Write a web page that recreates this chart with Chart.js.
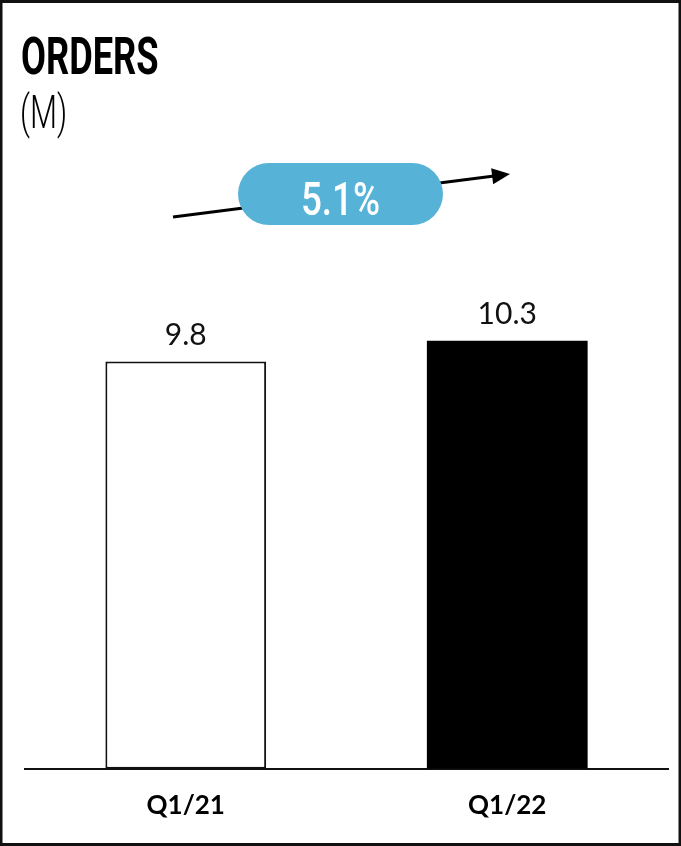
<!DOCTYPE html>
<html>
<head>
<meta charset="utf-8">
<title>Orders</title>
<script src="https://cdn.jsdelivr.net/npm/chart.js@4"></script>
<style>
    html, body { margin: 0; padding: 0; background: #fff; }
    #wrap { width: 681px; height: 846px; position: relative; }
</style>
</head>
<body>
<div id="wrap"><canvas id="orders-chart" width="681" height="846"></canvas></div>
<script>
// Quarterly orders, millions
const quarters = ['Q1/21', 'Q1/22'];
const orders = [9.8, 10.3];
const valueLabels = ['9.8', '10.3'];
const growthLabel = '5.1%';
const titleText = 'ORDERS';
const unitText = '(M)';

const barFill = ['#ffffff', '#000000'];
const barEdge = ['#111111', '#000000'];

// Draws a condensed string by squeezing the canvas horizontally
function condensedText(ctx, text, x, y, font, squeeze, align) {
    ctx.save();
    ctx.font = font;
    const w = ctx.measureText(text).width * squeeze;
    let left = x;
    if (align === 'center') left = x - w / 2;
    ctx.translate(left, y);
    ctx.scale(squeeze, 1);
    ctx.textAlign = 'left';
    ctx.fillText(text, 0, 0);
    ctx.restore();
}

const decorPlugin = {
    id: 'decor',
    afterDraw(chart) {
        const ctx = chart.ctx;

        // frame
        ctx.save();
        ctx.strokeStyle = '#111';
        ctx.lineWidth = 3;
        ctx.strokeRect(1, 1.5, chart.width - 2, chart.height - 3);
        ctx.restore();

        // heading
        ctx.save();
        ctx.fillStyle = '#000';
        ctx.textBaseline = 'alphabetic';
        condensedText(ctx, titleText, 21, 74, 'bold 51px Roboto', 0.71, 'left');
        condensedText(ctx, unitText, 20, 128, '300 46px Roboto', 0.68, 'left');
        ctx.restore();

        // growth arrow
        const x0 = 173, y0 = 217, x1 = 510, y1 = 174;
        const ang = Math.atan2(y1 - y0, x1 - x0);
        ctx.save();
        ctx.strokeStyle = '#000';
        ctx.fillStyle = '#000';
        ctx.lineWidth = 3;
        ctx.beginPath();
        ctx.moveTo(x0, y0);
        ctx.lineTo(x1 - 14 * Math.cos(ang), y1 - 14 * Math.sin(ang));
        ctx.stroke();
        ctx.translate(x1, y1);
        ctx.rotate(ang);
        ctx.beginPath();
        ctx.moveTo(0, 0);
        ctx.lineTo(-18, -8);
        ctx.lineTo(-18, 8);
        ctx.closePath();
        ctx.fill();
        ctx.restore();

        // growth pill
        const px = 238, py = 163, pw = 205, ph = 62;
        ctx.save();
        ctx.fillStyle = '#57b2d8';
        ctx.beginPath();
        ctx.roundRect(px, py, pw, ph, ph / 2);
        ctx.fill();
        ctx.fillStyle = '#fff';
        ctx.textBaseline = 'alphabetic';
        condensedText(ctx, growthLabel, px + pw / 2, 215, '500 46px Roboto', 0.8, 'center');
        ctx.restore();

        // values above bars
        const meta = chart.getDatasetMeta(0);
        ctx.save();
        ctx.fillStyle = '#111';
        ctx.font = '30px Lato';
        ctx.textAlign = 'center';
        ctx.textBaseline = 'alphabetic';
        meta.data.forEach(function(bar, i) {
            ctx.fillText(valueLabels[i], bar.x, bar.y - 17);
        });
        ctx.restore();
    }
};

const ctx = document.getElementById('orders-chart').getContext('2d');
new Chart(ctx, {
    type: 'bar',
    data: {
        labels: quarters,
        datasets: [{
            data: orders,
            backgroundColor: barFill,
            borderColor: barEdge,
            borderWidth: [2, 0],
            borderSkipped: false,
            categoryPercentage: 1,
            barPercentage: 0.5
        }]
    },
    options: {
        responsive: false,
        animation: false,
        devicePixelRatio: 1,
        layout: {
            padding: { top: 187, left: 25, right: 13, bottom: 4 }
        },
        plugins: {
            legend: { display: false },
            tooltip: { enabled: false }
        },
        scales: {
            x: {
                grid: { display: false, drawTicks: false },
                border: { display: true, color: '#111', width: 2 },
                ticks: {
                    color: '#000',
                    padding: 21,
                    font: { family: 'Lato', weight: 'bold', size: 26 }
                }
            },
            y: {
                display: false,
                min: 0,
                max: 14
            }
        }
    },
    plugins: [decorPlugin]
});
</script>
</body>
</html>
